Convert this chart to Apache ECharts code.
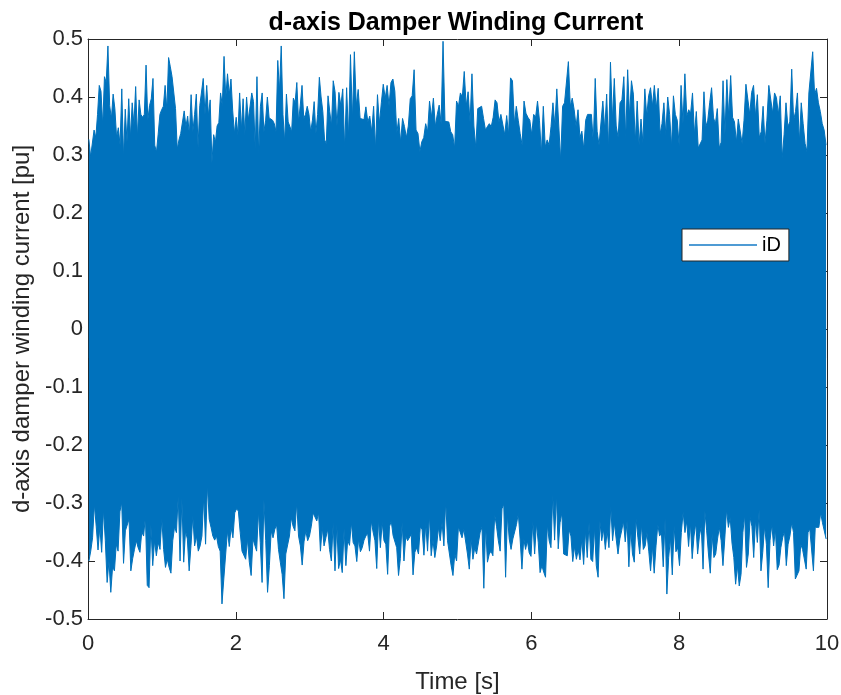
<!DOCTYPE html>
<html>
<head>
<meta charset="utf-8">
<script src="https://cdn.jsdelivr.net/npm/echarts@6/dist/echarts.min.js"></script>
<style>
html,body{margin:0;padding:0;background:#fff;overflow:hidden;}
#chart{width:841px;height:695px;}
</style>
</head>
<body>
<div id="chart"></div>
<script>
// ---- data ----
const titleText = 'd-axis Damper Winding Current';
const xName = 'Time [s]';
const yName = 'd-axis damper winding current [pu]';
const seriesName = 'iD';
const xTicks = [0, 2, 4, 6, 8, 10];
const yTicks = [-0.5, -0.4, -0.3, -0.2, -0.1, 0, 0.1, 0.2, 0.3, 0.4, 0.5];
// time spans [s] covered by the three groups of readings
const segEdges = [0, 3.33, 6.67, 10];

// upper envelope (positive peaks) of iD, read left to right
const upperA = [
0.327,0.297,0.30,0.343,0.33,0.37,0.42,0.41,0.35,0.435,
0.425,0.488,0.385,0.363,0.405,0.38,0.33,0.347,0.317,0.414,
0.295,0.379,0.322,0.397,0.33,0.39,0.352,0.418,0.33,0.395,
0.37,0.365,0.37,0.455,0.36,0.385,0.397,0.432,0.317,0.305,
0.336,0.37,0.378,0.384,0.42,0.378,0.468,0.452,0.435,0.434,
0.38,0.31,0.326,0.337,0.336,0.376,0.349,0.367,0.335,0.404,
0.34,0.37,0.405,0.314,0.385,0.384,0.432,0.37,0.42,0.368,
0.395,0.286,0.335,0.322,0.35,0.356,0.407,0.385,0.47,0.399,
0.44,0.404,0.431,0.376,0.337,0.365,0.335,0.407,0.343,0.397,
0.335,0.40,0.36,0.36,0.407,0.392,0.31,0.435,0.30,0.384,
0.407,0.34,0.36,0.40,0.364,0.363,0.36,0.354,0.34,0.463,
0.41,0.488,0.37,0.322,0.405,0.357,0.349,0.34,0.398,0.39,
0.425,0.357,0.386,0.42,0.363,0.37,0.384,0.37,0.34,0.36,
0.392,0.337,0.37,0.434,0.40,0.375,0.326,0.32,0.402,0.375,
0.35,0.428
];
const upperB = [
0.409,0.35,0.408,0.385,0.414,0.31,0.416,0.33,0.473,0.36,
0.478,0.385,0.413,0.363,0.363,0.361,0.383,0.357,0.367,0.34,
0.384,0.31,0.404,0.354,0.39,0.422,0.398,0.42,0.385,0.425,
0.431,0.41,0.337,0.363,0.322,0.363,0.349,0.33,0.35,0.397,
0.402,0.447,0.343,0.337,0.306,0.323,0.33,0.354,0.34,0.393,
0.365,0.398,0.349,0.37,0.386,0.354,0.496,0.358,0.356,0.357,
0.34,0.335,0.312,0.393,0.384,0.407,0.40,0.444,0.384,0.409,
0.356,0.44,0.35,0.312,0.38,0.378,0.384,0.363,0.343,0.349,
0.354,0.349,0.365,0.395,0.39,0.357,0.37,0.372,0.335,0.368,
0.335,0.433,0.428,0.354,0.384,0.36,0.337,0.317,0.393,0.372,
0.365,0.36,0.335,0.37,0.365,0.393,0.36,0.302,0.384,0.314,
0.326,0.317,0.349,0.39,0.35,0.414,0.416,0.29,0.384,0.39,
0.392,0.461,0.384,0.398,0.378,0.349,0.378,0.33
];
const upperC = [
0.341,0.31,0.36,0.37,0.367,0.37,0.322,0.432,0.341,0.317,
0.317,0.393,0.343,0.405,0.31,0.46,0.36,0.432,0.35,0.33,
0.39,0.395,0.435,0.327,0.447,0.367,0.428,0.405,0.322,0.393,
0.317,0.362,0.321,0.414,0.367,0.402,0.416,0.384,0.42,0.38,
0.415,0.336,0.354,0.39,0.335,0.40,0.37,0.314,0.402,0.37,
0.36,0.316,0.42,0.354,0.44,0.367,0.378,0.372,0.407,0.335,
0.375,0.312,0.314,0.326,0.409,0.349,0.36,0.39,0.416,0.364,
0.354,0.38,0.312,0.322,0.428,0.335,0.43,0.365,0.437,0.365,
0.357,0.322,0.362,0.365,0.32,0.36,0.422,0.424,0.37,0.408,
0.42,0.367,0.404,0.33,0.34,0.384,0.32,0.36,0.42,0.42,
0.372,0.407,0.399,0.37,0.402,0.294,0.335,0.39,0.349,0.357,
0.448,0.36,0.375,0.407,0.321,0.39,0.354,0.32,0.306,0.407,
0.405,0.478,0.404,0.415,0.39,0.375,0.354,0.343,0.317
];

// lower envelope (negative peaks) of iD, read left to right
const lowerA = [
-0.40,-0.383,-0.36,-0.302,-0.34,-0.381,-0.341,-0.385,-0.311,-0.365,
-0.437,-0.40,-0.454,-0.41,-0.417,-0.371,-0.383,-0.315,-0.299,-0.404,
-0.348,-0.346,-0.328,-0.417,-0.396,-0.38,-0.365,-0.377,-0.385,-0.35,
-0.357,-0.323,-0.442,-0.446,-0.337,-0.408,-0.365,-0.391,-0.368,-0.38,
-0.327,-0.38,-0.411,-0.397,-0.411,-0.421,-0.365,-0.341,-0.351,-0.288,
-0.40,-0.292,-0.402,-0.348,-0.362,-0.417,-0.373,-0.322,-0.374,-0.357,
-0.383,-0.374,-0.357,-0.288,-0.371,-0.268,-0.328,-0.342,-0.357,-0.364,
-0.357,-0.375,-0.383,-0.474,-0.431,-0.434,-0.348,-0.375,-0.342,-0.36,
-0.317,-0.31,-0.314,-0.351,-0.383,-0.385,-0.397,-0.362,-0.402,-0.425,
-0.362,-0.362,-0.383,-0.314,-0.368,-0.437,-0.294,-0.365,-0.454,-0.408,
-0.348,-0.36,-0.345,-0.338,-0.38,-0.402,-0.423,-0.465,-0.388,-0.388,
-0.357,-0.325,-0.34,-0.348,-0.299,-0.357,-0.374,-0.407,-0.367,-0.348,
-0.365,-0.357,-0.34,-0.317,-0.32,-0.331,-0.317,-0.383,-0.342,-0.374,
-0.36,-0.345,-0.38,-0.40,-0.335
];
const lowerB = [
-0.417,-0.337,-0.413,-0.397,-0.42,-0.345,-0.408,-0.364,-0.373,-0.333,
-0.368,-0.374,-0.401,-0.362,-0.384,-0.377,-0.364,-0.357,-0.352,-0.383,
-0.331,-0.35,-0.365,-0.413,-0.327,-0.377,-0.333,-0.365,-0.371,-0.423,
-0.341,-0.331,-0.356,-0.357,-0.377,-0.425,-0.396,-0.333,-0.40,-0.357,
-0.365,-0.365,-0.354,-0.424,-0.385,-0.377,-0.388,-0.341,-0.346,-0.39,
-0.335,-0.383,-0.32,-0.391,-0.364,-0.394,-0.374,-0.342,-0.365,-0.333,
-0.374,-0.296,-0.365,-0.362,-0.408,-0.425,-0.388,-0.40,-0.341,-0.342,
-0.36,-0.345,-0.348,-0.388,-0.414,-0.362,-0.397,-0.377,-0.388,-0.39,
-0.35,-0.342,-0.447,-0.338,-0.402,-0.388,-0.383,-0.391,-0.32,-0.34,
-0.365,-0.383,-0.31,-0.302,-0.428,-0.32,-0.362,-0.38,-0.362,-0.36,
-0.337,-0.318,-0.362,-0.414,-0.361,-0.38,-0.365,-0.386,-0.392,-0.331,
-0.388,-0.335,-0.368,-0.42,-0.408,-0.419,-0.428,-0.337,-0.365,-0.377,
-0.285,-0.364,-0.285,-0.379,-0.334,-0.317,-0.388,-0.388,-0.391,-0.346,
-0.357,-0.401,-0.375,-0.397,-0.381,-0.398
];
const lowerC = [
-0.362,-0.406,-0.348,-0.394,-0.334,-0.397,-0.401,-0.342,-0.408,-0.428,
-0.331,-0.365,-0.345,-0.38,-0.348,-0.377,-0.305,-0.365,-0.334,-0.362,
-0.388,-0.362,-0.348,-0.331,-0.367,-0.331,-0.41,-0.345,-0.388,-0.402,
-0.327,-0.36,-0.388,-0.337,-0.38,-0.374,-0.351,-0.383,-0.417,-0.374,
-0.421,-0.374,-0.337,-0.357,-0.351,-0.41,-0.327,-0.457,-0.394,-0.36,
-0.424,-0.34,-0.384,-0.377,-0.408,-0.351,-0.315,-0.351,-0.331,-0.375,
-0.334,-0.396,-0.357,-0.334,-0.388,-0.357,-0.34,-0.414,-0.314,-0.348,
-0.388,-0.421,-0.354,-0.394,-0.388,-0.362,-0.342,-0.365,-0.408,-0.362,
-0.311,-0.342,-0.325,-0.369,-0.394,-0.44,-0.408,-0.443,-0.423,-0.351,
-0.32,-0.411,-0.388,-0.325,-0.34,-0.394,-0.328,-0.368,-0.311,-0.417,
-0.385,-0.34,-0.371,-0.446,-0.365,-0.337,-0.374,-0.345,-0.415,-0.407,
-0.377,-0.36,-0.348,-0.408,-0.371,-0.357,-0.334,-0.351,-0.431,-0.434,
-0.417,-0.371,-0.38,-0.377,-0.414,-0.351,-0.345,-0.342,-0.417,-0.342,
-0.342,-0.342,-0.317,-0.334,-0.337,-0.362
];

// ---- build [time, value] pairs; readings are evenly spaced inside their span ----
function build(groups) {
  const out = [];
  groups.forEach((vals, k) => {
    const t0 = segEdges[k], t1 = segEdges[k + 1];
    vals.forEach((v, i) => out.push([t0 + (t1 - t0) * (i + 0.5) / vals.length, v]));
  });
  return out;
}
const upperData = build([upperA, upperB, upperC]);
const lowerData = build([lowerA, lowerB, lowerC]);

const FONT = '"Liberation Sans", Arial, Helvetica, sans-serif';
const AX = '#262626';
const BLUE = '#0072BD';

const chart = echarts.init(document.getElementById('chart'), null, {renderer: 'canvas'});

const yFmt = v => {
  const r = Math.round(v * 10) / 10;
  return r === 0 ? '0' : String(r);
};

const commonAxis = {
  axisLine: {show: true, onZero: false, lineStyle: {color: AX, width: 1}},
  axisTick: {show: true, inside: true, length: 7, lineStyle: {color: AX, width: 1}},
  splitLine: {show: false}
};

chart.setOption({
  animation: false,
  backgroundColor: '#fff',
  title: {
    text: titleText,
    left: 451,
    top: 6,
    textAlign: 'center',
    textStyle: {fontFamily: FONT, fontSize: 25, fontWeight: 'bold', color: '#000'}
  },
  legend: {
    data: [{name: seriesName, icon: 'rect'}],
    left: 682,
    top: 229,
    orient: 'vertical',
    backgroundColor: '#fff',
    borderColor: AX,
    borderWidth: 1,
    borderRadius: 0,
    padding: [6, 8, 6, 7],
    itemWidth: 68,
    itemHeight: 2,
    selectedMode: false,
    itemStyle: {color: '#4f9bd4', borderWidth: 0},
    textStyle: {fontFamily: FONT, fontSize: 20, color: '#000', lineHeight: 20}
  },
  grid: {left: 88, right: 14, top: 39, bottom: 76, containLabel: false, outerBoundsMode: 'none'},
  xAxis: [
    Object.assign({}, commonAxis, {
      type: 'value', position: 'bottom', min: xTicks[0], max: xTicks[xTicks.length - 1], interval: 2,
      name: xName, nameLocation: 'middle', nameGap: 51,
      nameTextStyle: {fontFamily: FONT, fontSize: 24, color: AX},
      axisLabel: {show: true, margin: 14, fontFamily: FONT, fontSize: 22, color: AX}
    }),
    Object.assign({}, commonAxis, {
      type: 'value', position: 'top', min: xTicks[0], max: xTicks[xTicks.length - 1], interval: 2,
      axisLabel: {show: false}
    })
  ],
  yAxis: [
    Object.assign({}, commonAxis, {
      type: 'value', position: 'left', min: yTicks[0], max: yTicks[yTicks.length - 1], interval: 0.1,
      name: yName, nameLocation: 'middle', nameGap: 54,
      nameTextStyle: {fontFamily: FONT, fontSize: 24, color: AX},
      axisLabel: {show: true, margin: 5, fontFamily: FONT, fontSize: 22, color: AX, formatter: yFmt}
    }),
    Object.assign({}, commonAxis, {
      type: 'value', position: 'right', min: yTicks[0], max: yTicks[yTicks.length - 1], interval: 0.1,
      axisLabel: {show: false}
    })
  ],
  series: [
    {
      name: seriesName, type: 'line', data: upperData, xAxisIndex: 0, yAxisIndex: 0,
      showSymbol: false, symbol: 'none', clip: true,
      lineStyle: {color: BLUE, width: 1},
      itemStyle: {color: BLUE},
      areaStyle: {color: BLUE, opacity: 1, origin: -0.05}
    },
    {
      name: seriesName, type: 'line', data: lowerData, xAxisIndex: 0, yAxisIndex: 0,
      showSymbol: false, symbol: 'none', clip: true,
      lineStyle: {color: BLUE, width: 1},
      itemStyle: {color: BLUE},
      areaStyle: {color: BLUE, opacity: 1, origin: 0.05}
    }
  ]
});
</script>
</body>
</html>
